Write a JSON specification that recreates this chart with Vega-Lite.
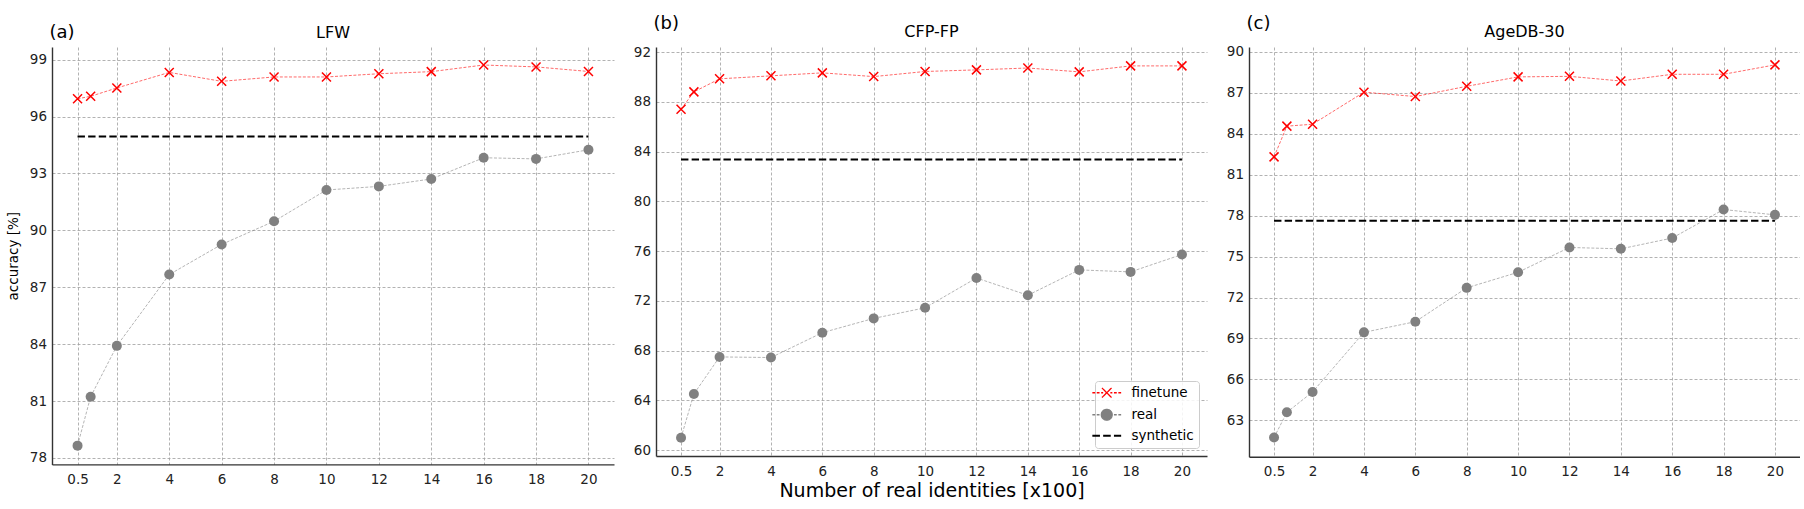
{
  "$schema": "https://vega.github.io/schema/vega-lite/v6.json",
  "background": "white",
  "padding": {"left": 6, "top": 14, "right": 0, "bottom": 0},
  "autosize": {"type": "pad"},
  "spacing": 19,
  "datasets": {
    "acc": [
      {"panel": "LFW", "n": 0.5, "method": "finetune", "acc": 96.94},
      {"panel": "LFW", "n": 1, "method": "finetune", "acc": 97.07},
      {"panel": "LFW", "n": 2, "method": "finetune", "acc": 97.51},
      {"panel": "LFW", "n": 4, "method": "finetune", "acc": 98.33},
      {"panel": "LFW", "n": 6, "method": "finetune", "acc": 97.86},
      {"panel": "LFW", "n": 8, "method": "finetune", "acc": 98.09},
      {"panel": "LFW", "n": 10, "method": "finetune", "acc": 98.09},
      {"panel": "LFW", "n": 12, "method": "finetune", "acc": 98.26},
      {"panel": "LFW", "n": 14, "method": "finetune", "acc": 98.37},
      {"panel": "LFW", "n": 16, "method": "finetune", "acc": 98.72},
      {"panel": "LFW", "n": 18, "method": "finetune", "acc": 98.62},
      {"panel": "LFW", "n": 20, "method": "finetune", "acc": 98.38},
      {"panel": "LFW", "n": 0.5, "method": "real", "acc": 78.65},
      {"panel": "LFW", "n": 1, "method": "real", "acc": 81.23},
      {"panel": "LFW", "n": 2, "method": "real", "acc": 83.91},
      {"panel": "LFW", "n": 4, "method": "real", "acc": 87.67},
      {"panel": "LFW", "n": 6, "method": "real", "acc": 89.26},
      {"panel": "LFW", "n": 8, "method": "real", "acc": 90.48},
      {"panel": "LFW", "n": 10, "method": "real", "acc": 92.13},
      {"panel": "LFW", "n": 12, "method": "real", "acc": 92.32},
      {"panel": "LFW", "n": 14, "method": "real", "acc": 92.71},
      {"panel": "LFW", "n": 16, "method": "real", "acc": 93.83},
      {"panel": "LFW", "n": 18, "method": "real", "acc": 93.77},
      {"panel": "LFW", "n": 20, "method": "real", "acc": 94.25},
      {"panel": "LFW", "n": 0.5, "method": "synthetic", "acc": 94.95},
      {"panel": "LFW", "n": 20, "method": "synthetic", "acc": 94.95},
      {"panel": "CFP-FP", "n": 0.5, "method": "finetune", "acc": 87.42},
      {"panel": "CFP-FP", "n": 1, "method": "finetune", "acc": 88.81},
      {"panel": "CFP-FP", "n": 2, "method": "finetune", "acc": 89.86},
      {"panel": "CFP-FP", "n": 4, "method": "finetune", "acc": 90.1},
      {"panel": "CFP-FP", "n": 6, "method": "finetune", "acc": 90.34},
      {"panel": "CFP-FP", "n": 8, "method": "finetune", "acc": 90.04},
      {"panel": "CFP-FP", "n": 10, "method": "finetune", "acc": 90.45},
      {"panel": "CFP-FP", "n": 12, "method": "finetune", "acc": 90.58},
      {"panel": "CFP-FP", "n": 14, "method": "finetune", "acc": 90.73},
      {"panel": "CFP-FP", "n": 16, "method": "finetune", "acc": 90.42},
      {"panel": "CFP-FP", "n": 18, "method": "finetune", "acc": 90.9},
      {"panel": "CFP-FP", "n": 20, "method": "finetune", "acc": 90.9},
      {"panel": "CFP-FP", "n": 0.5, "method": "real", "acc": 60.99},
      {"panel": "CFP-FP", "n": 1, "method": "real", "acc": 64.51},
      {"panel": "CFP-FP", "n": 2, "method": "real", "acc": 67.49},
      {"panel": "CFP-FP", "n": 4, "method": "real", "acc": 67.44},
      {"panel": "CFP-FP", "n": 6, "method": "real", "acc": 69.44},
      {"panel": "CFP-FP", "n": 8, "method": "real", "acc": 70.59},
      {"panel": "CFP-FP", "n": 10, "method": "real", "acc": 71.44},
      {"panel": "CFP-FP", "n": 12, "method": "real", "acc": 73.84},
      {"panel": "CFP-FP", "n": 14, "method": "real", "acc": 72.45},
      {"panel": "CFP-FP", "n": 16, "method": "real", "acc": 74.49},
      {"panel": "CFP-FP", "n": 18, "method": "real", "acc": 74.33},
      {"panel": "CFP-FP", "n": 20, "method": "real", "acc": 75.73},
      {"panel": "CFP-FP", "n": 0.5, "method": "synthetic", "acc": 83.37},
      {"panel": "CFP-FP", "n": 20, "method": "synthetic", "acc": 83.37},
      {"panel": "AgeDB-30", "n": 0.5, "method": "finetune", "acc": 82.31},
      {"panel": "AgeDB-30", "n": 1, "method": "finetune", "acc": 84.56},
      {"panel": "AgeDB-30", "n": 2, "method": "finetune", "acc": 84.7},
      {"panel": "AgeDB-30", "n": 4, "method": "finetune", "acc": 87.05},
      {"panel": "AgeDB-30", "n": 6, "method": "finetune", "acc": 86.73},
      {"panel": "AgeDB-30", "n": 8, "method": "finetune", "acc": 87.48},
      {"panel": "AgeDB-30", "n": 10, "method": "finetune", "acc": 88.17},
      {"panel": "AgeDB-30", "n": 12, "method": "finetune", "acc": 88.21},
      {"panel": "AgeDB-30", "n": 14, "method": "finetune", "acc": 87.87},
      {"panel": "AgeDB-30", "n": 16, "method": "finetune", "acc": 88.36},
      {"panel": "AgeDB-30", "n": 18, "method": "finetune", "acc": 88.36},
      {"panel": "AgeDB-30", "n": 20, "method": "finetune", "acc": 89.05},
      {"panel": "AgeDB-30", "n": 0.5, "method": "real", "acc": 61.74},
      {"panel": "AgeDB-30", "n": 1, "method": "real", "acc": 63.59},
      {"panel": "AgeDB-30", "n": 2, "method": "real", "acc": 65.08},
      {"panel": "AgeDB-30", "n": 4, "method": "real", "acc": 69.45},
      {"panel": "AgeDB-30", "n": 6, "method": "real", "acc": 70.23},
      {"panel": "AgeDB-30", "n": 8, "method": "real", "acc": 72.71},
      {"panel": "AgeDB-30", "n": 10, "method": "real", "acc": 73.85},
      {"panel": "AgeDB-30", "n": 12, "method": "real", "acc": 75.67},
      {"panel": "AgeDB-30", "n": 14, "method": "real", "acc": 75.57},
      {"panel": "AgeDB-30", "n": 16, "method": "real", "acc": 76.36},
      {"panel": "AgeDB-30", "n": 18, "method": "real", "acc": 78.45},
      {"panel": "AgeDB-30", "n": 20, "method": "real", "acc": 78.06},
      {"panel": "AgeDB-30", "n": 0.5, "method": "synthetic", "acc": 77.63},
      {"panel": "AgeDB-30", "n": 20, "method": "synthetic", "acc": 77.63}
    ],
    "panels": [
      {"panel": "LFW", "tag": "(a)"},
      {"panel": "CFP-FP", "tag": "(b)"},
      {"panel": "AgeDB-30", "tag": "(c)"}
    ]
  },
  "hconcat": [
    {
      "width": 562,
      "height": 417.4,
      "layer": [
        {
          "data": {"name": "acc"},
          "transform": [{"filter": "datum.panel === 'LFW' && datum.method === 'synthetic'"}],
          "mark": {"type": "line", "color": "black", "strokeWidth": 2, "strokeDash": [7.4, 3.2]},
          "encoding": {
            "x": {"field": "n", "type": "quantitative", "title": null,
                  "scale": {"domain": [-0.475, 20.975], "nice": false, "zero": false},
                  "axis": {"values": [0.5, 2, 4, 6, 8, 10, 12, 14, 16, 18, 20], "format": "~g"}},
            "y": {"field": "acc", "type": "quantitative", "title": "accuracy [%]",
                  "scale": {"domain": [77.66, 99.67], "nice": false, "zero": false},
                  "axis": {"values": [78, 81, 84, 87, 90, 93, 96, 99]}}
          }
        },
        {
          "data": {"name": "acc"},
          "transform": [{"filter": "datum.panel === 'LFW' && datum.method !== 'synthetic'"}],
          "mark": {"type": "line", "strokeWidth": 0.9, "strokeDash": [3, 1.6], "opacity": 0.65},
          "encoding": {
            "x": {"field": "n", "type": "quantitative"},
            "y": {"field": "acc", "type": "quantitative"},
            "color": {"field": "method", "type": "nominal", "legend": null,
                      "scale": {"domain": ["finetune", "real", "synthetic"], "range": ["#ff0000", "#808080", "#000000"]}}
          }
        },
        {
          "data": {"name": "acc"},
          "transform": [{"filter": "datum.panel === 'LFW' && datum.method === 'real'"}],
          "mark": {"type": "circle", "size": 100, "color": "#808080", "opacity": 1},
          "encoding": {
            "x": {"field": "n", "type": "quantitative"},
            "y": {"field": "acc", "type": "quantitative"}
          }
        },
        {
          "data": {"name": "acc"},
          "transform": [{"filter": "datum.panel === 'LFW' && datum.method === 'finetune'"}],
          "mark": {"type": "point", "shape": "M-1,-1L1,1M-1,1L1,-1", "size": 81, "filled": false, "color": "#ff0000", "strokeWidth": 1.5, "opacity": 1},
          "encoding": {
            "x": {"field": "n", "type": "quantitative"},
            "y": {"field": "acc", "type": "quantitative"}
          }
        },
        {
          "data": {"name": "panels"},
          "transform": [{"filter": "datum.panel === 'LFW'"}],
          "mark": {"type": "text", "align": "left", "baseline": "middle", "fontSize": 18, "color": "black", "clip": false},
          "encoding": {"text": {"field": "tag"}, "x": {"datum": -0.57}, "y": {"datum": 100.42}}
        },
        {
          "data": {"name": "panels"},
          "transform": [{"filter": "datum.panel === 'LFW'"}],
          "mark": {"type": "text", "align": "center", "baseline": "middle", "fontSize": 16, "color": "black", "clip": false},
          "encoding": {"text": {"field": "panel"}, "x": {"datum": 10.25}, "y": {"datum": 100.42}}
        }
      ]
    },
    {
      "width": 551,
      "height": 409,
      "layer": [
        {
          "data": {"name": "acc"},
          "transform": [{"filter": "datum.panel === 'CFP-FP' && datum.method === 'synthetic'"}],
          "mark": {"type": "line", "color": "black", "strokeWidth": 2, "strokeDash": [7.4, 3.2]},
          "encoding": {
            "x": {"field": "n", "type": "quantitative", "title": "Number of real identities [x100]",
                  "scale": {"domain": [-0.475, 20.975], "nice": false, "zero": false},
                  "axis": {"values": [0.5, 2, 4, 6, 8, 10, 12, 14, 16, 18, 20], "format": "~g"}},
            "y": {"field": "acc", "type": "quantitative", "title": null,
                  "scale": {"domain": [59.52, 92.42], "nice": false, "zero": false},
                  "axis": {"values": [60, 64, 68, 72, 76, 80, 84, 88, 92]}}
          }
        },
        {
          "data": {"name": "acc"},
          "transform": [{"filter": "datum.panel === 'CFP-FP' && datum.method !== 'synthetic'"}],
          "mark": {"type": "line", "strokeWidth": 0.9, "strokeDash": [3, 1.6], "opacity": 0.65},
          "encoding": {
            "x": {"field": "n", "type": "quantitative"},
            "y": {"field": "acc", "type": "quantitative"},
            "color": {"field": "method", "type": "nominal",
                      "scale": {"domain": ["finetune", "real", "synthetic"], "range": ["#ff0000", "#808080", "#000000"]},
                      "legend": {
                        "title": null, "orient": "bottom-right", "offset": 8, "padding": 5,
                        "fillColor": "rgba(255,255,255,0.85)", "strokeColor": "#cccccc", "cornerRadius": 3,
                        "labelFont": "DejaVu Sans", "labelFontSize": 13.5, "labelColor": "black",
                        "symbolSize": 256, "symbolOpacity": 1, "symbolStrokeWidth": 1.3,
                        "rowPadding": 5, "labelOffset": 18,
                        "encode": {
                          "symbols": {
                            "update": {
                              "shape": {"signal": "datum.value === 'finetune' ? 'M-1.8,0H-1.45M-1.25,0H-0.9M-0.7,0H-0.45M0.45,0H0.7M0.9,0H1.25M1.45,0H1.8M-0.6,-0.6L0.6,0.6M-0.6,0.6L0.6,-0.6' : datum.value === 'real' ? 'M-1.8,0H-1.45M-1.25,0H-0.9M0.9,0H1.25M1.45,0H1.8M-0.68,0A0.68,0.68 0 1,0 0.68,0A0.68,0.68 0 1,0 -0.68,0Z' : 'M-1.8,0H-0.85M-0.45,0H0.5M0.9,0H1.8'"},
                              "stroke": {"signal": "datum.value === 'finetune' ? '#ff0000' : datum.value === 'real' ? '#808080' : '#000000'"},
                              "fill": {"signal": "datum.value === 'real' ? '#808080' : 'transparent'"},
                              "strokeWidth": {"signal": "datum.value === 'synthetic' ? 2 : 1.3"},
                              "strokeDash": {"value": [1, 0]},
                              "opacity": {"value": 1}
                            }
                          }
                        }
                      }}
          }
        },
        {
          "data": {"name": "acc"},
          "transform": [{"filter": "datum.panel === 'CFP-FP' && datum.method === 'real'"}],
          "mark": {"type": "circle", "size": 100, "color": "#808080", "opacity": 1},
          "encoding": {
            "x": {"field": "n", "type": "quantitative"},
            "y": {"field": "acc", "type": "quantitative"}
          }
        },
        {
          "data": {"name": "acc"},
          "transform": [{"filter": "datum.panel === 'CFP-FP' && datum.method === 'finetune'"}],
          "mark": {"type": "point", "shape": "M-1,-1L1,1M-1,1L1,-1", "size": 81, "filled": false, "color": "#ff0000", "strokeWidth": 1.5, "opacity": 1},
          "encoding": {
            "x": {"field": "n", "type": "quantitative"},
            "y": {"field": "acc", "type": "quantitative"}
          }
        },
        {
          "data": {"name": "panels"},
          "transform": [{"filter": "datum.panel === 'CFP-FP'"}],
          "mark": {"type": "text", "align": "left", "baseline": "middle", "fontSize": 18, "color": "black", "clip": false},
          "encoding": {"text": {"field": "tag"}, "x": {"datum": -0.57}, "y": {"datum": 94.3}}
        },
        {
          "data": {"name": "panels"},
          "transform": [{"filter": "datum.panel === 'CFP-FP'"}],
          "mark": {"type": "text", "align": "center", "baseline": "middle", "fontSize": 16, "color": "black", "clip": false},
          "encoding": {"text": {"field": "panel"}, "x": {"datum": 10.25}, "y": {"datum": 93.63}}
        }
      ]
    },
    {
      "width": 551,
      "height": 409.8,
      "layer": [
        {
          "data": {"name": "acc"},
          "transform": [{"filter": "datum.panel === 'AgeDB-30' && datum.method === 'synthetic'"}],
          "mark": {"type": "line", "color": "black", "strokeWidth": 2, "strokeDash": [7.4, 3.2]},
          "encoding": {
            "x": {"field": "n", "type": "quantitative", "title": null,
                  "scale": {"domain": [-0.475, 20.975], "nice": false, "zero": false},
                  "axis": {"values": [0.5, 2, 4, 6, 8, 10, 12, 14, 16, 18, 20], "format": "~g"}},
            "y": {"field": "acc", "type": "quantitative", "title": null,
                  "scale": {"domain": [60.33, 90.36], "nice": false, "zero": false},
                  "axis": {"values": [63, 66, 69, 72, 75, 78, 81, 84, 87, 90]}}
          }
        },
        {
          "data": {"name": "acc"},
          "transform": [{"filter": "datum.panel === 'AgeDB-30' && datum.method !== 'synthetic'"}],
          "mark": {"type": "line", "strokeWidth": 0.9, "strokeDash": [3, 1.6], "opacity": 0.65},
          "encoding": {
            "x": {"field": "n", "type": "quantitative"},
            "y": {"field": "acc", "type": "quantitative"},
            "color": {"field": "method", "type": "nominal", "legend": null,
                      "scale": {"domain": ["finetune", "real", "synthetic"], "range": ["#ff0000", "#808080", "#000000"]}}
          }
        },
        {
          "data": {"name": "acc"},
          "transform": [{"filter": "datum.panel === 'AgeDB-30' && datum.method === 'real'"}],
          "mark": {"type": "circle", "size": 100, "color": "#808080", "opacity": 1},
          "encoding": {
            "x": {"field": "n", "type": "quantitative"},
            "y": {"field": "acc", "type": "quantitative"}
          }
        },
        {
          "data": {"name": "acc"},
          "transform": [{"filter": "datum.panel === 'AgeDB-30' && datum.method === 'finetune'"}],
          "mark": {"type": "point", "shape": "M-1,-1L1,1M-1,1L1,-1", "size": 81, "filled": false, "color": "#ff0000", "strokeWidth": 1.5, "opacity": 1},
          "encoding": {
            "x": {"field": "n", "type": "quantitative"},
            "y": {"field": "acc", "type": "quantitative"}
          }
        },
        {
          "data": {"name": "panels"},
          "transform": [{"filter": "datum.panel === 'AgeDB-30'"}],
          "mark": {"type": "text", "align": "left", "baseline": "middle", "fontSize": 18, "color": "black", "clip": false},
          "encoding": {"text": {"field": "tag"}, "x": {"datum": -0.57}, "y": {"datum": 92.07}}
        },
        {
          "data": {"name": "panels"},
          "transform": [{"filter": "datum.panel === 'AgeDB-30'"}],
          "mark": {"type": "text", "align": "center", "baseline": "middle", "fontSize": 16, "color": "black", "clip": false},
          "encoding": {"text": {"field": "panel"}, "x": {"datum": 10.25}, "y": {"datum": 91.46}}
        }
      ]
    }
  ],
  "resolve": {"scale": {"color": "independent"}, "legend": {"color": "independent"}},
  "config": {
    "font": "DejaVu Sans",
    "view": {"stroke": null},
    "axis": {
      "grid": true, "gridColor": "#9e9e9e", "gridDash": [3, 2], "gridWidth": 0.8,
      "ticks": false,
      "domainColor": "#333333", "domainWidth": 1.4,
      "labelFont": "DejaVu Sans", "labelFontSize": 13.5, "labelColor": "#222222",
      "titleFont": "DejaVu Sans", "titleFontWeight": "normal", "titleColor": "black"
    },
    "axisX": {"labelPadding": 8, "titleFontSize": 19, "titlePadding": 4},
    "axisY": {"labelPadding": 5.5, "titleFontSize": 13.5, "titlePadding": 9}
  }
}
